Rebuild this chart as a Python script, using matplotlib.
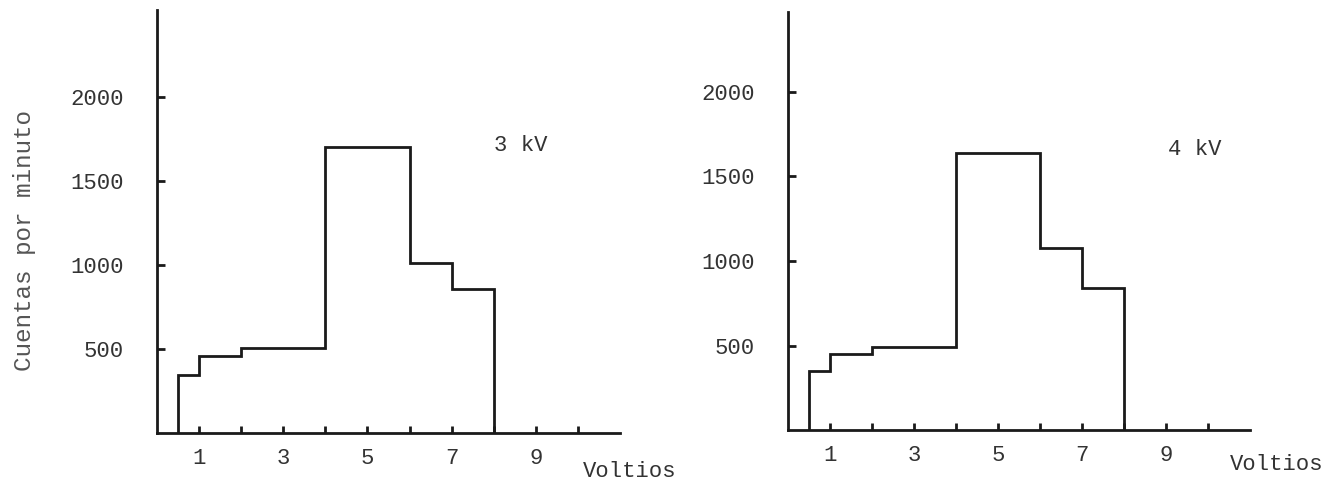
import matplotlib
matplotlib.use('Agg')
import matplotlib.pyplot as plt

# bin edges (Voltios) and counts per minute
edges = [0.5, 1, 2, 4, 6, 7, 8]
counts_3kv = [345, 460, 505, 1700, 1010, 855]
counts_4kv = [350, 450, 490, 1640, 1075, 840]

xticks = [1, 2, 3, 4, 5, 6, 7, 8, 9, 10]
xlabels = ['1', '', '3', '', '5', '', '7', '', '9', '']
yticks = [500, 1000, 1500, 2000]

plt.rcParams['font.family'] = ['Liberation Mono', 'DejaVu Sans Mono']
ink = '#1a1a1a'
txt = '#333333'

fig = plt.figure(figsize=(13.29, 4.9), dpi=100)

panels = [
    # axes rect, counts, label, label pos, ylim top, Voltios pos (axes frac), alignment
    ([0.1181, 0.1163, 0.3484, 0.8633], counts_3kv, '3 kV', (8.0, 1710), 2518, (0.92, -0.104), 'left'),
    ([0.5929, 0.1224, 0.3477, 0.8531], counts_4kv, '4 kV', (9.05, 1660), 2473, (1.160, -0.096), 'right'),
]

for rect, counts, lab, lpos, ytop, vpos, vha in panels:
    ax = fig.add_axes(rect)
    ax.stairs(counts, edges, baseline=0, color=ink, lw=2.0)
    ax.set_xlim(0, 11)
    ax.set_ylim(0, ytop)
    for s in ['top', 'right']:
        ax.spines[s].set_visible(False)
    for s in ['left', 'bottom']:
        ax.spines[s].set_linewidth(2.0)
        ax.spines[s].set_color(ink)
    ax.set_xticks(xticks)
    ax.set_xticklabels(xlabels)
    ax.set_yticks(yticks)
    ax.tick_params(axis='x', direction='in', length=5, width=2, color=ink,
                   pad=11, labelsize=16, labelcolor=txt)
    ax.tick_params(axis='y', direction='in', length=6, width=2, color=ink,
                   pad=24, labelsize=16, labelcolor=txt)
    ax.text(lpos[0], lpos[1], lab, fontsize=16, color=txt, va='center', ha='left')
    ax.text(vpos[0], vpos[1], 'Voltios', transform=ax.transAxes, fontsize=16,
            color=txt, va='baseline', ha=vha)

fig.text(25 / 1329, 0.51, 'Cuentas por minuto', rotation=90, fontsize=17.5,
         color='#555555', va='center', ha='center')

fig.savefig('out.png', dpi=100)
